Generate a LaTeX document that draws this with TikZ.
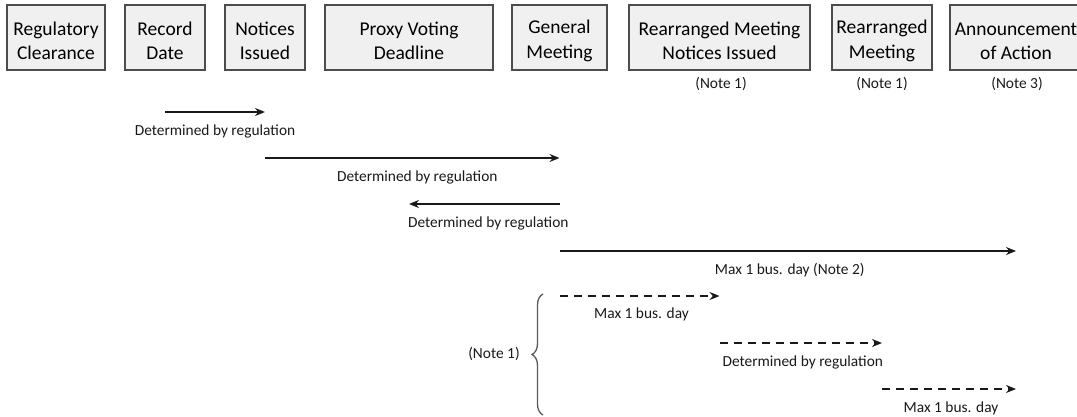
\documentclass[tikz,border=0pt]{standalone}
\usepackage{fontspec}
\setmainfont{Carlito}
\usetikzlibrary{arrows.meta,decorations.pathreplacing}

% raises the first line of a box so its text sits a little lower
\newcommand{\topgap}{\rule{0pt}{20pt}}

\tikzset{
  stage/.style={draw=black!70, line width=2.2pt, fill=black!6,
    minimum height=65pt, inner sep=0pt, align=center, text=black,
    font=\fontsize{19.5}{24.5}\selectfont},
  note/.style={text=black!90, font=\fontsize{15.4}{18}\selectfont, inner sep=0pt},
  span/.style={line width=1.5pt, draw=black!90,
    -{Stealth[length=10pt,width=8pt]}},
  spandash/.style={span, dash pattern=on 8pt off 6pt},
  lbl/.style={note, midway, yshift=-19pt},
}

\begin{document}
\begin{tikzpicture}[x=1pt, y=-1pt]
  \useasboundingbox (0,0) rectangle (1077,417);
  \clip (0,0) rectangle (1077,417);

  % event boxes along the timeline
  \node[stage, minimum width=98pt]  (reg)  at (56,37.5)    {\topgap Regulatory\\Clearance};
  \node[stage, minimum width=80pt]  (rec)  at (165,37.5)   {\topgap Record\\Date};
  \node[stage, minimum width=80pt]  (nis)  at (265,37.5)   {\topgap Notices\\Issued};
  \node[stage, minimum width=168pt] (pvd)  at (409,37.5)   {\topgap Proxy Voting\\Deadline};
  \node[stage, minimum width=95pt]  (gm)   at (559.5,37.5) {\topgap General\\Meeting};
  \node[stage, minimum width=181pt] (rmn)  at (719.5,37.5) {\topgap Rearranged Meeting\\Notices Issued};
  \node[stage, minimum width=100pt] (rm)   at (882,37.5)   {\topgap Rearranged\\Meeting};
  \node[stage, minimum width=132pt] (ann)  at (1016,37.5)  {\topgap Announcement\\of Action};

  % notes under boxes
  \node[note] (n1) at (721,84) {(Note 1)};
  \node[note] (n2) at (882,84) {(Note 1)};
  \node[note] (n3) at (1017,84) {(Note 3)};

  % rows of the timing arrows
  \coordinate (r1) at (0,112);
  \coordinate (r2) at (0,158);
  \coordinate (r3) at (0,204);
  \coordinate (r4) at (0,251);
  \coordinate (r5) at (0,296);
  \coordinate (r6) at (0,343);
  \coordinate (r7) at (0,389);

  \draw[span] (rec |- r1) -- (nis |- r1)
    node[lbl] {Determined by regulation};
  \draw[span] (nis |- r2) -- (gm |- r2)
    node[lbl, xshift=5pt] {Determined by regulation};
  \draw[span] (gm |- r3) -- (pvd |- r3)
    node[lbl, xshift=4pt] {Determined by regulation};
  \draw[span] (gm |- r4) -- (ann |- r4)
    node[lbl, xshift=2pt] {Max 1 bus. day (Note 2)};

  % rearranged meeting path
  \draw[spandash] (gm |- r5) -- (rmn |- r5)
    node[lbl, xshift=2pt, yshift=1pt] {Max 1 bus. day};
  \draw[spandash] (rmn |- r6) -- (rm |- r6)
    node[lbl, xshift=2pt] {Determined by regulation};
  \draw[spandash] (rm |- r7) -- (ann |- r7)
    node[lbl, xshift=2pt] {Max 1 bus. day};

  % brace grouping the rearranged path
  \coordinate (bt) at (543,294);
  \coordinate (bb) at (543,415);
  \draw[black!65, line width=1.3pt,
    decoration={brace, amplitude=11pt, aspect=0.5}, decorate] (bb) -- (bt);
  \node[note] (n4) at (494,354) {(Note 1)};
\end{tikzpicture}
\end{document}
